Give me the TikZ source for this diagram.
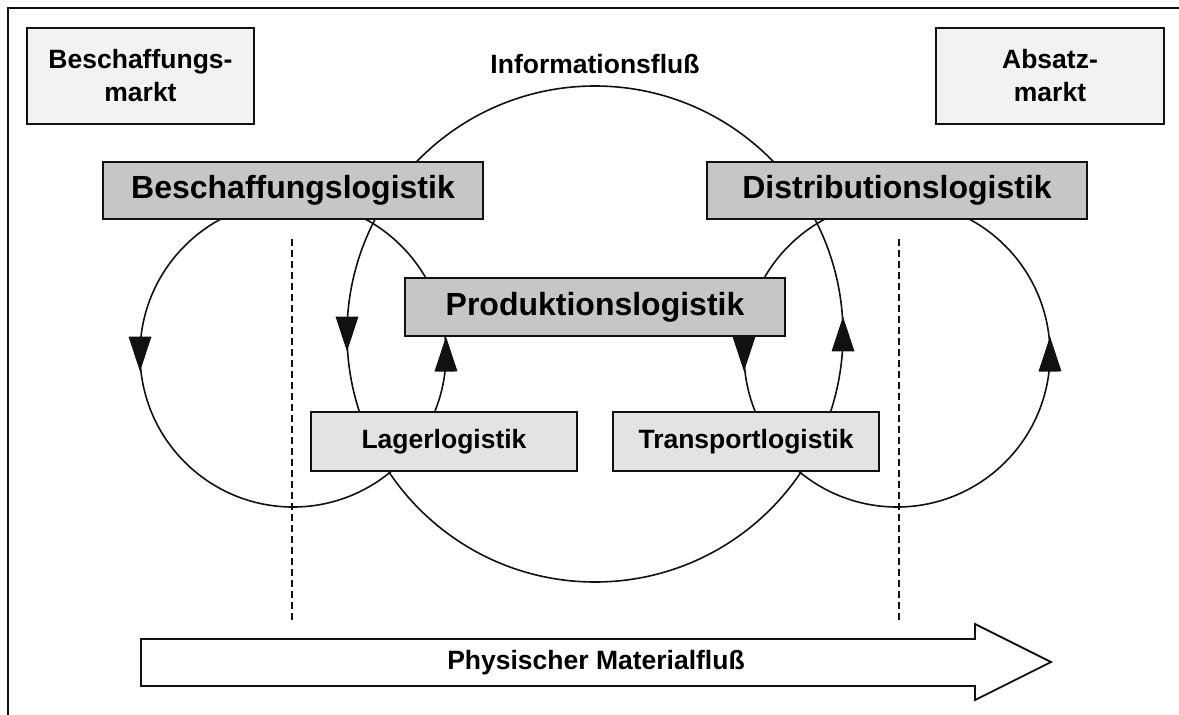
\documentclass[tikz,border=0pt]{standalone}
\usepackage{fontspec}
\setmainfont{Liberation Sans}
\usetikzlibrary{decorations.markings}

\newcommand\lblsmall{\fontsize{26.5}{33}\selectfont\bfseries}
\newcommand\lblbig{\fontsize{32}{38}\selectfont\bfseries}
\newcommand\flowhead{\fill[ink] (17.5pt,0pt) -- (-17.5pt,11.5pt) -- (-17.5pt,-11.5pt) -- cycle;}
\definecolor{paleBox}{HTML}{F2F2F2}
\definecolor{lightBox}{HTML}{E3E3E3}
\definecolor{midBox}{HTML}{C6C6C6}
\definecolor{ink}{HTML}{111111}

\begin{document}
\begin{tikzpicture}[x=1pt,y=-1pt,
  box/.style={draw=ink, line width=1.8pt, inner sep=0pt, align=center},
  marketbox/.style={box, fill=paleBox, font=\lblsmall, minimum width=227pt, minimum height=96pt},
  areabox/.style={box, fill=midBox, font=\lblbig, minimum width=380pt, minimum height=57pt},
  subbox/.style={box, fill=lightBox, font=\lblsmall, minimum width=266pt, minimum height=59pt},
  loopline/.style={draw=ink, line width=1.6pt},
  % filled triangles centred on the left and right extremes of a loop
  flowmarks/.style={postaction={decorate}, decoration={markings,
     mark=at position 0.25 with {\flowhead},
     mark=at position 0.75 with {\flowhead}}},
  divider/.style={draw=ink, line width=1.3pt, dash pattern=on 7pt off 4pt},
]
\useasboundingbox (0,0) rectangle (1179,715);

% outer frame (top and left edges)
\draw[ink, line width=1.8pt] (8,715) -- (8,8) -- (1179,8);

% information flow (large circle) and the two material loops,
% each drawn from its lowest point: up on the right, down on the left
\draw[loopline, flowmarks]
  (595,334) ++(0,248) arc[start angle=90, end angle=-270, radius=248];
\draw[loopline, flowmarks]
  (293,354) ++(0,153) arc[start angle=90, end angle=-270, radius=153];
\draw[loopline, flowmarks]
  (897,354) ++(0,153) arc[start angle=90, end angle=-270, radius=153];

% dashed market boundaries
\coordinate (ltop) at (292,239);
\coordinate (lbot) at (292,623);
\coordinate (rtop) at (899,239);
\coordinate (rbot) at (899,623);
\draw[divider] (ltop) -- (lbot);
\draw[divider] (rtop) -- (rbot);

% markets
\node[marketbox] (bmarkt) at (140.5,76) {Beschaffungs-\\markt};
\node[marketbox, minimum width=228pt] (amarkt) at (1050,76) {Absatz-\\markt};

\node[font=\lblsmall] (info) at (595,64) {Informationsfluß};

% logistics areas
\node[areabox] (blog) at (293,190.5) {Beschaffungslogistik};
\node[areabox] (dlog) at (897,190.5) {Distributionslogistik};
\node[areabox, minimum height=58pt] (plog) at (595,307) {Produktionslogistik};
\node[subbox] (lager) at (444,441.5) {Lagerlogistik};
\node[subbox] (trans) at (746,441.5) {Transportlogistik};

% physical material flow arrow
\draw[ink, line width=1.8pt, fill=white]
  (141,639) -- (975,639) -- (975,624) -- (1051,662) -- (975,700) -- (975,686) -- (141,686) -- cycle;
\node[font=\lblsmall] (mat) at (596,662.5) {Physischer Materialfluß};
\end{tikzpicture}
\end{document}
